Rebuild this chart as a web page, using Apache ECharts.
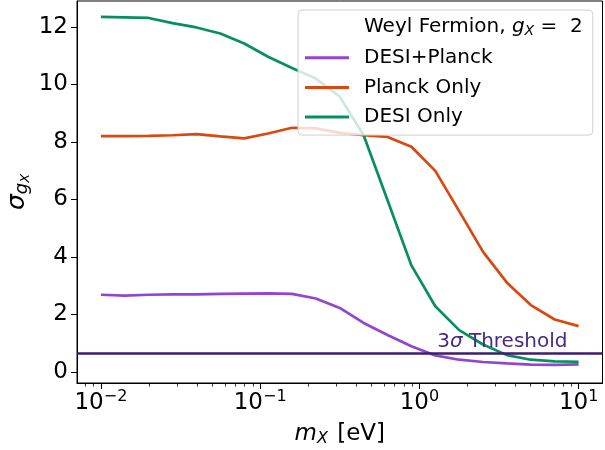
<!DOCTYPE html>
<html>
<head>
<meta charset="utf-8">
<script src="https://cdn.jsdelivr.net/npm/echarts@6/dist/echarts.min.js"></script>
<style>
html,body{margin:0;padding:0;background:#fff;}
#chart{width:605px;height:450px;}
</style>
</head>
<body>
<div id="chart"></div>
<script>
// mass values m_X [eV]
var mass = [0.01, 0.01413, 0.01995, 0.02818, 0.03981, 0.05623, 0.07943, 0.1122, 0.1585, 0.2239, 0.3162, 0.4467, 0.631, 0.8913, 1.259, 1.778, 2.512, 3.548, 5.012, 7.079, 10];
var desiPlanck = [2.68, 2.65, 2.68, 2.69, 2.69, 2.71, 2.72, 2.73, 2.71, 2.55, 2.22, 1.70, 1.28, 0.89, 0.57, 0.42, 0.34, 0.29, 0.25, 0.24, 0.26];
var planckOnly = [8.20, 8.20, 8.21, 8.23, 8.27, 8.19, 8.12, 8.29, 8.49, 8.47, 8.31, 8.23, 8.17, 7.83, 6.99, 5.59, 4.17, 3.10, 2.32, 1.82, 1.59];
var desiOnly = [12.35, 12.33, 12.31, 12.13, 11.98, 11.77, 11.42, 10.96, 10.57, 10.20, 9.57, 8.23, 5.97, 3.70, 2.28, 1.45, 0.95, 0.58, 0.42, 0.36, 0.35];
var threshold = 0.66;
var seriesNames = ['DESI+Planck', 'Planck Only', 'DESI Only'];
var legendTitle = 'Weyl Fermion, g_X = 2';
var xMajorTicks = [0.01, 0.1, 1, 10];
var xMinorTicks = [0.008, 0.009, 0.02, 0.03, 0.04, 0.05, 0.06, 0.07, 0.08, 0.09, 0.2, 0.3, 0.4, 0.5, 0.6, 0.7, 0.8, 0.9, 2, 3, 4, 5, 6, 7, 8, 9];
var yTicks = [0, 2, 4, 6, 8, 10, 12];

var colors = ['#9245d0', '#d9480f', '#088f5f'];
var FONT = 'DejaVu Sans';

function pairs(ys) { return mass.map(function (m, i) { return [m, ys[i]]; }); }

var chart = echarts.init(document.getElementById('chart'), null, {renderer: 'canvas'});
var xMin = Math.pow(10, -2.15), xMax = Math.pow(10, 1.15);

var option = {
  animation: false,
  backgroundColor: '#fff',
  grid: {left: 77, top: 1, width: 525.5, height: 382, show: true, borderColor: '#000', borderWidth: 1, backgroundColor: 'transparent', containLabel: false, outerBoundsMode: 'none'},
  legend: {
    orient: 'vertical', left: 298, top: 10,
    padding: [6, 10, 8, 7],
    itemGap: 9.7, itemWidth: 44, itemHeight: 3,
    backgroundColor: 'rgba(255,255,255,0.8)', borderColor: '#d0d0d0', borderWidth: 1, borderRadius: 4,
    selectedMode: false,
    icon: 'rect',
    data: [
      {name: legendTitle, itemStyle: {color: 'rgba(0,0,0,0)'}},
      {name: seriesNames[0], itemStyle: {color: colors[0]}},
      {name: seriesNames[1], itemStyle: {color: colors[1]}},
      {name: seriesNames[2], itemStyle: {color: colors[2]}}
    ],
    formatter: function (name) {
      if (name === legendTitle) return 'Weyl Fermion, {i|g}{sub|X}{t| =  2}';
      return name;
    },
    textStyle: {
      fontFamily: FONT, fontSize: 20, color: '#000', lineHeight: 20, padding: [0, 0, 0, 10],
      rich: {
        i: {fontFamily: FONT, fontSize: 20, fontStyle: 'italic', color: '#000', lineHeight: 20},
        sub: {fontFamily: FONT, fontSize: 14, fontStyle: 'italic', color: '#000', lineHeight: 20, padding: [8, 0, 0, 0]},
        t: {fontFamily: FONT, fontSize: 20, color: '#000', lineHeight: 20}
      }
    }
  },
  xAxis: [{
    type: 'log', min: xMin, max: xMax, position: 'bottom',
    name: '{i|m}{sub|X}{t| [eV]}', nameLocation: 'middle', nameGap: 32,
    nameTextStyle: {
      fontFamily: FONT, fontSize: 23, color: '#000',
      rich: {
        i: {fontFamily: FONT, fontSize: 23, fontStyle: 'italic', color: '#000', lineHeight: 26},
        sub: {fontFamily: FONT, fontSize: 16, fontStyle: 'italic', color: '#000', lineHeight: 26, padding: [9, 2, 0, 0]},
        t: {fontFamily: FONT, fontSize: 23, color: '#000', lineHeight: 26}
      }
    },
    axisLine: {show: true, onZero: false, lineStyle: {color: '#000', width: 1}},
    axisTick: {show: true, customValues: xMajorTicks, length: 6, lineStyle: {color: '#000', width: 1}},
    axisLabel: {
      show: true, customValues: xMajorTicks, margin: 7,
      formatter: function (v) {
        var e = Math.round(Math.log10(v));
        var s = e < 0 ? '\u2212' + Math.abs(e) : String(e);
        return '{b|10}{s|' + s + '}';
      },
      rich: {
        b: {fontFamily: FONT, fontSize: 23, color: '#000', lineHeight: 26},
        s: {fontFamily: FONT, fontSize: 16, color: '#000', lineHeight: 26, padding: [0, 0, 12, 0]}
      }
    },
    splitLine: {show: false}, minorTick: {show: false}
  }, {
    type: 'log', min: xMin, max: xMax, position: 'bottom', gridIndex: 0,
    axisLine: {show: false, onZero: false},
    axisTick: {show: true, customValues: xMinorTicks, length: 3.5, lineStyle: {color: '#000', width: 0.8}},
    axisLabel: {show: false},
    splitLine: {show: false}
  }],
  yAxis: {
    type: 'value', min: -0.39, max: 12.9,
    name: '{s|\u03c3}{g|g}{x|X}', nameLocation: 'middle', nameGap: 45, nameRotate: 90, nameMoveOverlap: false,
    nameTextStyle: {
      fontFamily: FONT, color: '#000',
      rich: {
        s: {fontFamily: FONT, fontSize: 25, fontStyle: 'italic', color: '#000', lineHeight: 30},
        g: {fontFamily: FONT, fontSize: 18, fontStyle: 'italic', color: '#000', lineHeight: 30, padding: [10, 0, 0, 0]},
        x: {fontFamily: FONT, fontSize: 13, fontStyle: 'italic', color: '#000', lineHeight: 30, padding: [18, 0, 0, 0]}
      }
    },
    axisLine: {show: true, onZero: false, lineStyle: {color: '#000', width: 1}},
    axisTick: {show: true, customValues: yTicks, length: 6, lineStyle: {color: '#000', width: 1}},
    axisLabel: {show: true, customValues: yTicks, margin: 9, fontFamily: FONT, fontSize: 23, color: '#000'},
    splitLine: {show: false}
  },
  series: [
    {name: legendTitle, type: 'line', data: [], lineStyle: {opacity: 0}, itemStyle: {color: 'rgba(0,0,0,0)'}},
    {name: seriesNames[0], type: 'line', data: pairs(desiPlanck), showSymbol: false, lineStyle: {color: colors[0], width: 2.7}, itemStyle: {color: colors[0]}},
    {name: seriesNames[1], type: 'line', data: pairs(planckOnly), showSymbol: false, lineStyle: {color: colors[1], width: 2.7}, itemStyle: {color: colors[1]}},
    {name: seriesNames[2], type: 'line', data: pairs(desiOnly), showSymbol: false, lineStyle: {color: colors[2], width: 2.7}, itemStyle: {color: colors[2]},
      markLine: {
        silent: true, symbol: 'none', animation: false,
        lineStyle: {color: '#3b1c6e', width: 2.6, type: 'solid'},
        data: [{yAxis: threshold}],
        label: {
          show: true, position: 'insideEndTop', distance: [35, 1],
          formatter: '{a|3}{i|\u03c3}{a| Threshold}',
          rich: {
            a: {fontFamily: FONT, fontSize: 20, color: '#4a2a82'},
            i: {fontFamily: FONT, fontSize: 20, fontStyle: 'italic', color: '#4a2a82'}
          }
        }
      }
    }
  ]
};
chart.setOption(option);
</script>
</body>
</html>
